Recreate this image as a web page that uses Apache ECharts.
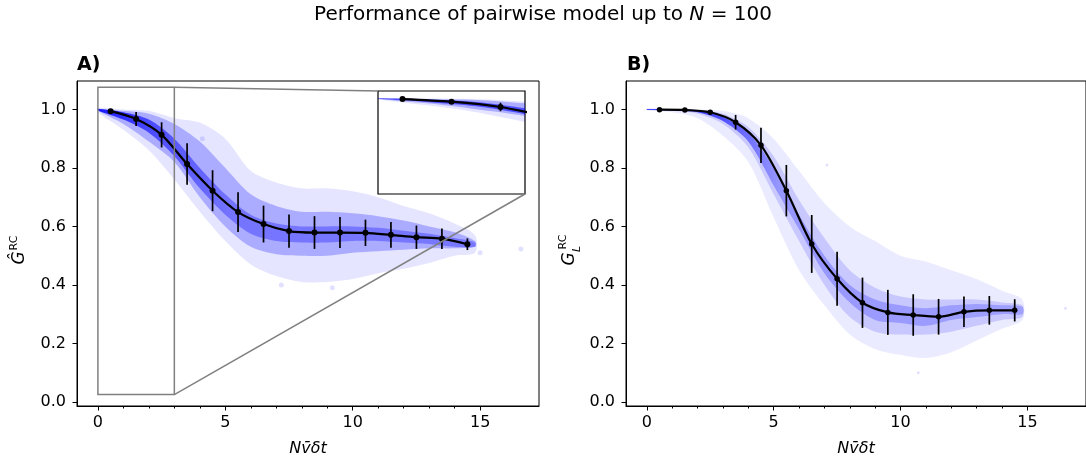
<!DOCTYPE html>
<html>
<head>
<meta charset="utf-8">
<script src="https://cdn.jsdelivr.net/npm/echarts@6.0.0/dist/echarts.min.js"></script>
<style>
  html, body { margin: 0; padding: 0; background: #fff; }
  #chart { width: 1086px; height: 462px; }
</style>
</head>
<body>
<div id="chart"></div>
<script>
// binned means and spreads, one per unit of N v dt
const binX  = [0.5, 1.5, 2.5, 3.5, 4.5, 5.5, 6.5, 7.5, 8.5, 9.5, 10.5, 11.5, 12.5, 13.5, 14.5];
const meanA = [0.994, 0.967, 0.913, 0.813, 0.722, 0.649, 0.608, 0.584, 0.579, 0.579, 0.578, 0.571, 0.563, 0.558, 0.539];
const errA  = [0.005, 0.024, 0.043, 0.071, 0.070, 0.068, 0.063, 0.057, 0.056, 0.053, 0.045, 0.044, 0.040, 0.035, 0.020];
const meanB = [0.999, 0.998, 0.990, 0.956, 0.877, 0.722, 0.540, 0.421, 0.339, 0.306, 0.297, 0.291, 0.308, 0.313, 0.313];
const errB  = [0.002, 0.003, 0.006, 0.025, 0.060, 0.088, 0.099, 0.092, 0.086, 0.077, 0.071, 0.061, 0.052, 0.049, 0.038];

// envelopes of the scatter clouds (outer = sparse, core = dense, inner = densest)
const cloudX   = [0, 1, 2, 3, 4, 5, 6, 7, 8, 9, 10, 11, 12, 13, 14, 14.8];
const aOuterHi = [1.005, 1.0, 0.995, 0.97, 0.955, 0.90, 0.79, 0.75, 0.73, 0.73, 0.72, 0.70, 0.67, 0.645, 0.61, 0.57];
const aOuterLo = [0.99, 0.93, 0.86, 0.76, 0.65, 0.55, 0.47, 0.43, 0.41, 0.41, 0.42, 0.44, 0.455, 0.475, 0.50, 0.51];
const aCoreHi  = [1.0, 0.995, 0.985, 0.95, 0.89, 0.80, 0.71, 0.67, 0.65, 0.65, 0.645, 0.635, 0.62, 0.60, 0.58, 0.55];
const aCoreLo  = [0.995, 0.95, 0.89, 0.82, 0.70, 0.60, 0.53, 0.505, 0.50, 0.50, 0.51, 0.515, 0.52, 0.525, 0.525, 0.53];
const aInnerHi = [1.002, 0.99, 0.965, 0.90, 0.80, 0.71, 0.64, 0.61, 0.60, 0.60, 0.60, 0.595, 0.585, 0.575, 0.56, 0.545];
const aInnerLo = [0.996, 0.965, 0.92, 0.84, 0.73, 0.64, 0.575, 0.55, 0.545, 0.545, 0.55, 0.55, 0.545, 0.54, 0.53, 0.53];
const bOuterHi = [1.003, 1.002, 1.0, 0.995, 0.97, 0.90, 0.79, 0.68, 0.60, 0.55, 0.50, 0.48, 0.45, 0.42, 0.38, 0.35];
const bOuterLo = [0.997, 0.99, 0.97, 0.91, 0.82, 0.63, 0.45, 0.33, 0.23, 0.18, 0.16, 0.15, 0.17, 0.21, 0.25, 0.28];
const bCoreHi  = [1.0, 1.0, 0.998, 0.985, 0.94, 0.84, 0.69, 0.56, 0.45, 0.39, 0.36, 0.35, 0.35, 0.35, 0.34, 0.33];
const bCoreLo  = [0.998, 0.995, 0.985, 0.95, 0.87, 0.71, 0.55, 0.40, 0.29, 0.24, 0.23, 0.23, 0.24, 0.26, 0.28, 0.29];
const bInnerHi = [1.001, 1.0, 0.997, 0.975, 0.92, 0.80, 0.64, 0.50, 0.40, 0.35, 0.33, 0.32, 0.33, 0.335, 0.33, 0.325];
const bInnerLo = [0.999, 0.997, 0.99, 0.96, 0.89, 0.74, 0.59, 0.44, 0.34, 0.28, 0.27, 0.26, 0.28, 0.29, 0.30, 0.30];
const strayA = [[16.6, 0.523], [15.0, 0.51], [9.2, 0.39], [7.2, 0.40], [4.1, 0.90]];
const strayB = [[16.5, 0.32], [10.7, 0.10], [7.1, 0.81]];

const majorX = [0, 5, 10, 15];
const minorX = [1, 2, 3, 4, 6, 7, 8, 9, 11, 12, 13, 14];
const ticksY = [0, 0.2, 0.4, 0.6, 0.8, 1.0];
const zoomBox = [0, 3, 0.025, 1.076];   // x0, x1, y0, y1 of the inset region

const X_MIN = -0.82, X_MAX = 17.31, Y_MIN = -0.014, Y_MAX = 1.097;
const GRID_A = { left: 77, top: 81, width: 462, height: 325 };
const GRID_B = { left: 626, top: 81, width: 462, height: 325 };
const INSET  = { left: 378, top: 91, width: 147, height: 103 };
const FONT = 'DejaVu Sans';

// horizontal fade so the crowded start of each cloud reads as solid blue
function fade(stops) {
  return { type: 'linear', x: 0, y: 0, x2: 1, y2: 0,
           colorStops: stops.map(s => ({ offset: s[0], color: 'rgba(0,0,255,' + s[1] + ')' })) };
}

function band(xi, yi, lo, hi, fill) {
  return {
    type: 'custom', xAxisIndex: xi, yAxisIndex: yi, clip: true, silent: true, z: 2,
    data: cloudX.map((x, i) => [x, lo[i], hi[i]]),
    encode: { x: 0, y: [1, 2] },
    renderItem: function (params, api) {
      if (params.dataIndex !== 0) return;
      const top = cloudX.map((x, i) => api.coord([x, hi[i]]));
      const bot = cloudX.map((x, i) => api.coord([x, lo[i]])).reverse();
      return { type: 'polygon', shape: { points: top.concat(bot), smooth: 0.3 }, style: { fill: fill } };
    }
  };
}

function errBars(xi, yi, mean, err) {
  return {
    type: 'custom', xAxisIndex: xi, yAxisIndex: yi, clip: true, silent: true, z: 4,
    data: binX.map((x, i) => [x, mean[i], err[i]]),
    encode: { x: 0, y: 1 },
    renderItem: function (params, api) {
      const x = api.value(0), y = api.value(1), e = api.value(2);
      const p1 = api.coord([x, y - e]), p2 = api.coord([x, y + e]);
      return { type: 'line', shape: { x1: p1[0], y1: p1[1], x2: p2[0], y2: p2[1] },
               style: { stroke: '#000', lineWidth: 1.7 } };
    }
  };
}

function meanLine(xi, yi, mean, size) {
  return {
    type: 'line', xAxisIndex: xi, yAxisIndex: yi, clip: true, silent: true, z: 5,
    data: binX.map((x, i) => [x, mean[i]]),
    smooth: 0.3, symbol: 'circle', symbolSize: size,
    itemStyle: { color: '#000' }, lineStyle: { color: '#000', width: 2.2 }
  };
}

function stray(xi, yi, pts, size, color) {
  return { type: 'scatter', xAxisIndex: xi, yAxisIndex: yi, silent: true, z: 2,
           data: pts, symbolSize: size, itemStyle: { color: color } };
}

const tickText = { t: { fontFamily: FONT, fontSize: 16, color: '#000' } };

function majorAxis(gi, name) {
  return {
    type: 'value', gridIndex: gi, position: 'bottom', min: X_MIN, max: X_MAX,
    name: name, nameLocation: 'middle', nameGap: 35,
    nameTextStyle: { fontFamily: FONT, fontSize: 16, fontStyle: 'italic', color: '#000' },
    axisLine: { show: true, onZero: false, lineStyle: { color: '#000', width: 1 } },
    axisTick: { show: true, length: 4.5, customValues: majorX, lineStyle: { color: '#000' } },
    axisLabel: { customValues: majorX, margin: 9, formatter: v => '{t|' + v + '}', rich: tickText },
    splitLine: { show: false }
  };
}
function minorAxis(gi) {
  return {
    type: 'value', gridIndex: gi, position: 'bottom', min: X_MIN, max: X_MAX,
    axisLine: { show: false, onZero: false },
    axisTick: { show: true, length: 2.5, customValues: minorX, lineStyle: { color: '#000' } },
    axisLabel: { show: false }, splitLine: { show: false }
  };
}
function yAxisMain(gi) {
  return {
    type: 'value', gridIndex: gi, min: Y_MIN, max: Y_MAX,
    axisLine: { show: true, onZero: false, lineStyle: { color: '#000', width: 1 } },
    axisTick: { show: true, length: 4.5, customValues: ticksY, lineStyle: { color: '#000' } },
    axisLabel: { customValues: ticksY, margin: 11, formatter: v => '{t|' + v.toFixed(1) + '}', rich: tickText },
    splitLine: { show: false }
  };
}

const chart = echarts.init(document.getElementById('chart'), null, { renderer: 'canvas' });

const option = {
  animation: false,
  backgroundColor: '#fff',
  title: [
    { text: '{a|Performance of pairwise model up to }{b|N}{a| = 100}', left: 'center', top: 5, padding: 0,
      textStyle: { fontWeight: 'normal', rich: {
        a: { fontFamily: FONT, fontSize: 20, fontWeight: 'normal', color: '#000' },
        b: { fontFamily: FONT, fontSize: 20, fontWeight: 'normal', fontStyle: 'italic', color: '#000' } } } },
    { text: 'A)', left: 77, top: 56, padding: 0, textStyle: { fontFamily: FONT, fontSize: 19, fontWeight: 'bold', color: '#000' } },
    { text: 'B)', left: 627, top: 56, padding: 0, textStyle: { fontFamily: FONT, fontSize: 19, fontWeight: 'bold', color: '#000' } }
  ],
  grid: [
    Object.assign({ show: true, borderColor: '#000', borderWidth: 1, backgroundColor: 'transparent' }, GRID_A),
    Object.assign({ show: true, borderColor: '#000', borderWidth: 1, backgroundColor: 'transparent' }, GRID_B),
    Object.assign({ show: true, borderColor: '#000', borderWidth: 1.2, backgroundColor: '#fff' }, INSET)
  ],
  xAxis: [
    majorAxis(0, 'Nv\u0304\u03b4t'), minorAxis(0),
    majorAxis(1, 'Nv\u0304\u03b4t'), minorAxis(1),
    { type: 'value', gridIndex: 2, min: zoomBox[0], max: zoomBox[1], show: false }
  ],
  yAxis: [
    yAxisMain(0), yAxisMain(1),
    { type: 'value', gridIndex: 2, min: zoomBox[2], max: zoomBox[3], show: false }
  ],
  graphic: [
    { type: 'text', x: 20, y: 258, rotation: Math.PI / 2,
      style: { text: '\u011C', fontFamily: FONT, fontSize: 17, fontStyle: 'italic', fill: '#000',
               textAlign: 'center', textVerticalAlign: 'middle' } },
    { type: 'text', x: 14, y: 243, rotation: Math.PI / 2,
      style: { text: 'RC', fontFamily: FONT, fontSize: 11, fill: '#000',
               textAlign: 'center', textVerticalAlign: 'middle' } },
    { type: 'text', x: 570, y: 259, rotation: Math.PI / 2,
      style: { text: 'G', fontFamily: FONT, fontSize: 17, fontStyle: 'italic', fill: '#000',
               textAlign: 'center', textVerticalAlign: 'middle' } },
    { type: 'text', x: 577, y: 249, rotation: Math.PI / 2,
      style: { text: 'L', fontFamily: FONT, fontSize: 11, fontStyle: 'italic', fill: '#000',
               textAlign: 'center', textVerticalAlign: 'middle' } },
    { type: 'text', x: 563, y: 242, rotation: Math.PI / 2,
      style: { text: 'RC', fontFamily: FONT, fontSize: 11, fill: '#000',
               textAlign: 'center', textVerticalAlign: 'middle' } }
  ],
  series: [
    // panel A
    band(0, 0, aOuterLo, aOuterHi, 'rgba(0,0,255,0.10)'),
    band(0, 0, aCoreLo, aCoreHi, 'rgba(0,0,255,0.25)'),
    band(0, 0, aInnerLo, aInnerHi, fade([[0, 0.85], [0.15, 0.55], [0.35, 0.32], [1, 0.30]])),
    stray(0, 0, strayA, 5, 'rgba(0,0,255,0.15)'),
    errBars(0, 0, meanA, errA),
    meanLine(0, 0, meanA, 6),
    // zoom rectangle and connectors to the inset
    {
      type: 'custom', xAxisIndex: 0, yAxisIndex: 0, clip: false, silent: true, z: 6,
      data: [[zoomBox[0], zoomBox[2]]],
      renderItem: function (params, api) {
        const a = api.coord([zoomBox[0], zoomBox[3]]);
        const b = api.coord([zoomBox[1], zoomBox[2]]);
        const st = { stroke: '#808080', lineWidth: 1.5, fill: null };
        return { type: 'group', children: [
          { type: 'rect', shape: { x: a[0], y: a[1], width: b[0] - a[0], height: b[1] - a[1] }, style: st },
          { type: 'line', shape: { x1: b[0], y1: a[1], x2: INSET.left, y2: INSET.top }, style: st },
          { type: 'line', shape: { x1: b[0], y1: b[1], x2: INSET.left + INSET.width, y2: INSET.top + INSET.height }, style: st }
        ] };
      }
    },
    // inset
    band(4, 2, aOuterLo, aOuterHi, 'rgba(0,0,255,0.10)'),
    band(4, 2, aCoreLo, aCoreHi, 'rgba(0,0,255,0.25)'),
    band(4, 2, aInnerLo, aInnerHi, 'rgba(0,0,255,0.55)'),
    errBars(4, 2, meanA, errA),
    meanLine(4, 2, meanA, 6),
    // panel B
    band(2, 1, bOuterLo, bOuterHi, 'rgba(0,0,255,0.08)'),
    band(2, 1, bCoreLo, bCoreHi, 'rgba(0,0,255,0.15)'),
    band(2, 1, bInnerLo, bInnerHi, fade([[0, 0.9], [0.2, 0.6], [0.35, 0.25], [1, 0.2]])),
    stray(2, 1, strayB, 3, 'rgba(0,0,255,0.15)'),
    errBars(2, 1, meanB, errB),
    meanLine(2, 1, meanB, 5.5)
  ]
};

chart.setOption(option);
</script>
</body>
</html>
